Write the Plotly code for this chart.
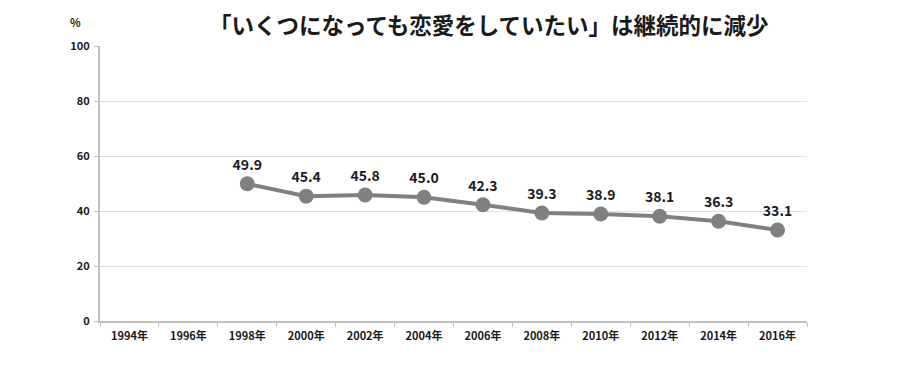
import plotly.graph_objects as go

years = ["1994年", "1996年", "1998年", "2000年", "2002年", "2004年", "2006年", "2008年", "2010年", "2012年", "2014年", "2016年"]
values = [None, None, 49.9, 45.4, 45.8, 45.0, 42.3, 39.3, 38.9, 38.1, 36.3, 33.1]
labels = ["" if v is None else f"{v:.1f}" for v in values]
yticks = [0, 20, 40, 60, 80, 100]

FONT = "Noto Sans CJK JP"

fig = go.Figure()
fig.add_trace(go.Scatter(
    x=years, y=values, mode="lines+markers+text",
    text=labels, textposition="top center",
    textfont=dict(family=FONT, size=14, color="#1a1a1a", weight=700),
    line=dict(color="#808080", width=4),
    marker=dict(color="#808080", size=15),
    cliponaxis=False, showlegend=False,
))

fig.update_layout(
    width=900, height=390,
    margin=dict(l=92, r=101, t=38, b=77),
    plot_bgcolor="white", paper_bgcolor="white",
    font=dict(family=FONT, color="#1a1a1a"),
    xaxis=dict(
        type="category", tickson="boundaries", ticks="outside", ticklen=4,
        tickcolor="#bfbfbf", showline=True, linecolor="#bfbfbf", linewidth=2,
        showgrid=False, tickfont=dict(size=11, family=FONT, weight=700), range=[-0.5, 11.5],
        ticklabelstandoff=4,
    ),
    yaxis=dict(
        range=[0, 100], tickvals=yticks, showgrid=True, gridcolor="#e0e0e0", gridwidth=1,
        showline=True, linecolor="#bfbfbf", linewidth=2, ticks="outside", ticklen=4,
        tickcolor="#bfbfbf", tickfont=dict(size=11, family=FONT, weight=700), zeroline=False,
        ticklabelstandoff=2,
    ),
    annotations=[
        dict(text="「いくつになっても恋愛をしていたい」は継続的に減少", xref="paper", yref="paper",
             x=0.55, y=1, yshift=22, xanchor="center", yanchor="middle", showarrow=False,
             font=dict(size=22.5, family=FONT, color="#1a1a1a", weight=700)),
        dict(text="%", xref="paper", yref="paper", x=0, xshift=-25, y=1, yshift=24,
             xanchor="center", yanchor="middle", showarrow=False,
             font=dict(size=11, family=FONT, color="#1a1a1a", weight=700)),
    ],
)

fig.write_html("out.html")
